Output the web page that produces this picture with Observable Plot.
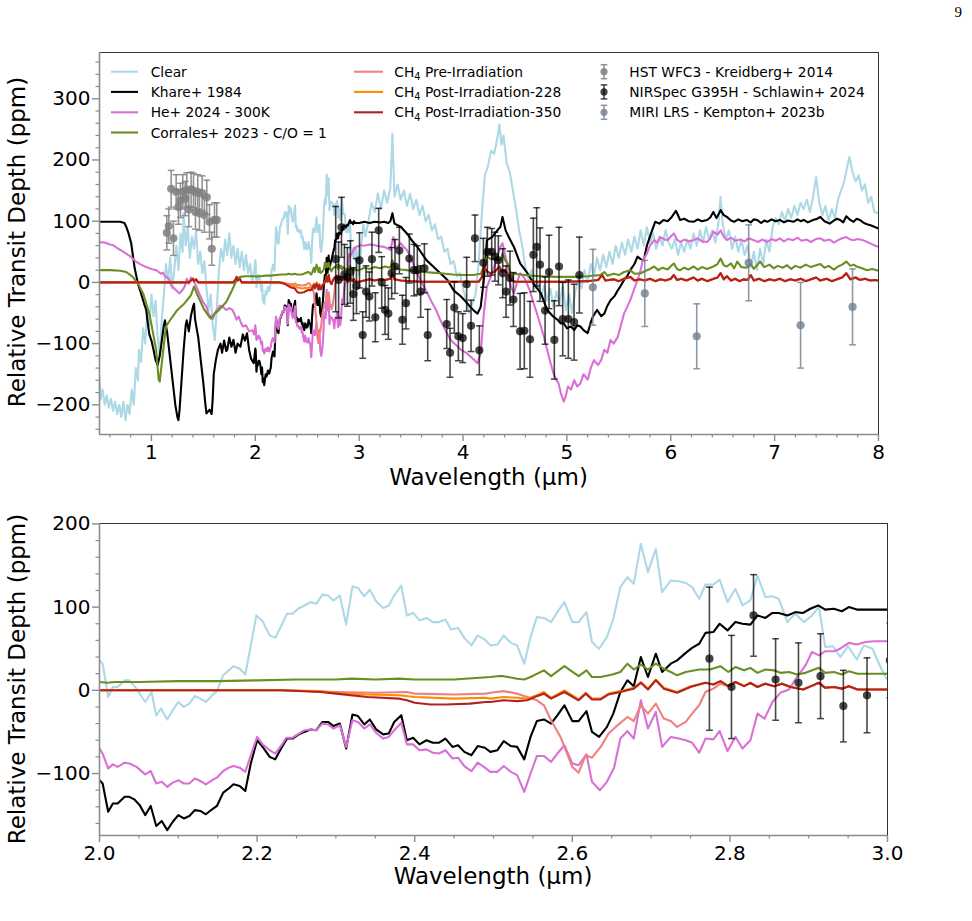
<!DOCTYPE html>
<html>
<head>
<meta charset="utf-8">
<script src="https://cdn.jsdelivr.net/npm/d3@7"></script>
<script src="https://cdn.jsdelivr.net/npm/@observablehq/plot@0.6"></script>
<style>
  body { margin: 0; background: #fff; }
  #page { position: relative; width: 972px; height: 921px; font-family: "DejaVu Sans", sans-serif; }
  #top, #bottom { position: absolute; left: 0; }
  #top { top: 0; }
  #bottom { top: 500px; }
  #overlay { position: absolute; left: 0; top: 0; pointer-events: none; }
</style>
</head>
<body>
<div id="page">
  <div id="top"></div>
  <div id="bottom"></div>
  <svg id="overlay" width="972" height="921"></svg>
</div>
<script>
// ---- Model spectra: [wavelength (µm), relative transit depth (ppm)] ----
const clearSpectrum = [
  [0.50,-154],[0.51,-192],[0.53,-175],[0.55,-200],[0.57,-185],[0.59,-205],[0.61,-190],[0.63,-210],[0.65,-195],[0.67,-215],
  [0.69,-200],[0.71,-220],[0.73,-195],[0.75,-225],[0.77,-200],[0.79,-215],[0.81,-175],[0.83,-200],[0.85,-140],[0.87,-160],
  [0.88,-110],[0.90,-130],[0.92,-75],[0.94,-100],[0.96,-45],[0.98,-70],[1.00,-20],[1.02,-55],[1.04,-30],[1.06,-90],
  [1.08,-120],[1.10,-60],[1.12,-20],[1.14,30],[1.16,0],[1.18,40],[1.20,-10],[1.22,20],[1.24,60],[1.26,20],[1.28,80],
  [1.30,50],[1.31,113],[1.33,60],[1.35,90],[1.37,40],[1.39,75],[1.41,55],[1.43,85],[1.45,30],[1.47,50],[1.49,15],
  [1.51,35],[1.53,-10],[1.55,-45],[1.57,-20],[1.59,-70],[1.61,-94],[1.63,-40],[1.65,20],[1.67,55],[1.69,35],[1.71,70],
  [1.73,45],[1.75,80],[1.77,40],[1.79,60],[1.81,30],[1.83,55],[1.85,25],[1.87,50],[1.89,20],[1.91,45],[1.93,15],
  [1.95,30],[1.97,0],[1.99,20],
  [2.000,36],[2.004,32],[2.011,-8],[2.017,4],[2.023,4],[2.032,12],[2.038,12],[2.047,2],[2.058,-14],[2.066,-2],[2.072,-30],
  [2.078,-22],[2.086,-35],[2.093,-24],[2.100,-14],[2.107,-20],[2.114,-16],[2.121,-7],[2.128,-10],[2.135,-14],[2.143,-6],
  [2.149,-1],[2.157,18],[2.164,24],[2.170,29],[2.178,26],[2.185,19],[2.192,54],[2.199,90],[2.207,83],[2.216,66],[2.223,63],
  [2.231,78],[2.238,92],[2.245,92],[2.252,98],[2.260,102],[2.268,106],[2.275,104],[2.283,115],[2.290,114],[2.297,108],
  [2.305,114],[2.313,79],[2.321,125],[2.328,123],[2.336,113],[2.343,121],[2.351,107],[2.360,99],[2.367,102],[2.374,114],
  [2.383,126],[2.390,90],[2.398,93],[2.406,84],[2.415,87],[2.423,82],[2.431,82],[2.439,85],[2.446,73],[2.455,75],[2.463,63],
  [2.472,54],[2.480,66],[2.489,61],[2.496,54],[2.505,55],[2.513,66],[2.522,57],[2.530,54],[2.539,32],[2.547,64],[2.555,88],
  [2.564,87],[2.573,82],[2.581,94],[2.590,106],[2.600,82],[2.608,82],[2.618,94],[2.625,58],[2.634,50],[2.644,64],[2.652,86],
  [2.661,124],[2.670,136],[2.678,128],[2.687,176],[2.696,142],[2.706,170],[2.714,118],[2.725,132],[2.735,131],[2.744,129],
  [2.752,124],[2.761,110],[2.769,127],[2.779,127],[2.787,133],[2.797,106],[2.807,122],[2.816,102],[2.826,108],[2.835,138],
  [2.845,112],[2.854,113],[2.862,110],[2.873,82],[2.883,92],[2.894,82],[2.903,89],[2.913,100],[2.921,52],[2.931,53],
  [2.940,40],[2.950,53],[2.961,37],[2.970,54],[2.981,50],[2.991,28],[3.000,12],
  [3.02,60],[3.04,95],[3.06,75],[3.09,100],[3.12,130],[3.15,115],[3.18,145],[3.21,120],[3.24,150],[3.27,130],[3.30,155],
  [3.32,243],[3.34,140],[3.37,160],[3.40,135],[3.43,150],[3.46,125],[3.49,145],[3.52,120],[3.55,135],[3.58,110],[3.61,125],
  [3.64,100],[3.67,110],[3.70,85],[3.73,95],[3.76,70],[3.79,75],[3.82,50],[3.85,55],[3.88,30],[3.91,35],[3.94,10],
  [3.97,15],[4.00,-10],[4.03,-30],[4.06,-50],[4.09,-35],[4.12,-20],[4.15,30],[4.18,110],[4.21,175],[4.24,190],[4.27,215],
  [4.30,210],[4.33,235],[4.35,258],[4.37,225],[4.39,240],[4.42,195],[4.45,180],[4.48,150],[4.51,120],[4.54,85],[4.57,60],
  [4.60,25],[4.63,5],[4.66,20],[4.69,-10],[4.72,0],[4.75,-25],[4.78,-5],[4.81,-30],[4.84,-10],[4.87,-40],[4.90,-15],
  [4.93,-35],[4.96,-5],[4.99,-45],[5.02,-20],[5.05,-50],[5.08,-15],[5.11,5],[5.14,-10],[5.17,20],[5.20,0],[5.23,30],
  [5.26,10],[5.29,40],[5.32,20],[5.35,45],[5.38,25],[5.41,50],[5.44,30],[5.47,60],[5.50,40],[5.53,65],[5.56,45],[5.59,70],
  [5.62,50],[5.65,75],[5.68,55],[5.71,85],[5.74,60],[5.77,90],[5.80,65],[5.83,80],[5.86,55],[5.89,75],[5.92,60],[5.95,85],
  [5.98,65],[6.01,55],[6.04,70],[6.07,45],[6.10,65],[6.13,50],[6.16,70],[6.19,55],[6.22,80],[6.25,60],[6.28,85],[6.31,65],
  [6.34,90],[6.37,70],[6.40,85],[6.43,65],[6.46,100],[6.48,140],[6.50,95],[6.53,70],[6.56,85],[6.59,55],[6.62,75],[6.65,50],
  [6.68,70],[6.71,45],[6.74,60],[6.77,25],[6.80,50],[6.83,20],[6.86,55],[6.89,30],[6.92,70],[6.95,50],[6.98,90],[7.01,105],
  [7.04,95],[7.07,115],[7.10,100],[7.13,120],[7.16,105],[7.19,125],[7.22,110],[7.25,130],[7.28,120],[7.31,135],[7.34,115],
  [7.37,140],[7.40,172],[7.43,130],[7.46,110],[7.49,125],[7.52,100],[7.55,120],[7.58,105],[7.61,135],[7.64,150],[7.67,165],
  [7.70,190],[7.72,205],[7.75,180],[7.78,165],[7.81,175],[7.84,150],[7.87,160],[7.90,130],[7.93,140],[7.96,115],[8.00,113]
];

const khare1984 = [
  [0.50,99],[0.60,99],[0.70,99],[0.74,97],[0.757,91],[0.78,80],[0.805,64],[0.837,25],[0.87,-2],[0.90,-18],[0.93,-35],
  [0.95,-45],[0.96,-60],[0.98,-85],[1.00,-95],[1.02,-110],[1.04,-127],[1.06,-135],[1.08,-120],[1.10,-95],[1.12,-70],
  [1.13,-62],[1.15,-80],[1.17,-110],[1.19,-140],[1.21,-170],[1.23,-200],[1.25,-220],[1.26,-225],[1.27,-210],[1.29,-160],
  [1.31,-110],[1.33,-70],[1.34,-62],[1.36,-80],[1.38,-55],[1.40,-40],[1.41,-35],[1.42,-60],[1.44,-80],[1.45,-89],
  [1.47,-120],[1.50,-165],[1.52,-200],[1.53,-214],[1.55,-210],[1.56,-208],[1.58,-215],[1.59,-190],[1.60,-150],[1.62,-127],
  [1.64,-110],[1.665,-100],[1.68,-115],[1.70,-95],[1.72,-112],[1.73,-110],[1.75,-90],[1.77,-105],[1.79,-94],[1.81,-115],
  [1.83,-100],[1.857,-105],[1.88,-85],[1.90,-95],[1.92,-83],[1.94,-110],[1.96,-125],[1.985,-132],
  [2.000,-108],[2.004,-112],[2.011,-146],[2.017,-136],[2.023,-136],[2.032,-128],[2.038,-128],[2.044,-131],[2.051,-138],
  [2.058,-150],[2.065,-139],[2.072,-163],[2.079,-157],[2.086,-168],[2.093,-158],[2.100,-150],[2.107,-154],[2.114,-151],
  [2.121,-144],[2.128,-145],[2.135,-149],[2.143,-143],[2.149,-139],[2.157,-123],[2.164,-118],[2.170,-113],[2.178,-115],
  [2.185,-121],[2.192,-88],[2.200,-60],[2.207,-68],[2.216,-80],[2.223,-83],[2.231,-69],[2.238,-58],[2.245,-58],[2.253,-53],
  [2.260,-50],[2.268,-47],[2.275,-48],[2.283,-38],[2.290,-38],[2.297,-43],[2.305,-40],[2.313,-70],[2.321,-29],[2.328,-31],
  [2.336,-41],[2.343,-35],[2.351,-47],[2.360,-53],[2.367,-52],[2.374,-38],[2.383,-30],[2.390,-60],[2.398,-57],[2.406,-65],
  [2.415,-60],[2.423,-63],[2.431,-63],[2.439,-58],[2.448,-68],[2.455,-66],[2.463,-74],[2.472,-78],[2.480,-67],[2.489,-69],
  [2.496,-74],[2.505,-72],[2.513,-61],[2.522,-67],[2.530,-68],[2.539,-83],[2.547,-56],[2.555,-37],[2.564,-35],[2.573,-40],
  [2.581,-30],[2.590,-18],[2.600,-37],[2.608,-37],[2.618,-25],[2.625,-50],[2.634,-56],[2.644,-44],[2.652,-28],[2.661,-2],
  [2.670,12],[2.678,5],[2.687,40],[2.696,16],[2.706,44],[2.714,22],[2.725,32],[2.733,36],[2.744,45],[2.752,51],[2.761,56],
  [2.769,69],[2.779,70],[2.787,80],[2.797,72],[2.807,82],[2.816,80],[2.826,79],[2.835,90],[2.845,87],[2.854,93],[2.862,93],
  [2.873,90],[2.883,94],[2.893,93],[2.902,98],[2.912,102],[2.921,97],[2.932,98],[2.942,95],[2.951,100],[2.961,97],
  [2.972,97],[2.983,97],[3.000,97],
  [3.05,99],[3.10,97],[3.15,99],[3.20,98],[3.24,99],[3.28,97],[3.30,100],[3.32,113],[3.34,96],[3.40,91],[3.46,80],[3.51,68],
  [3.56,58],[3.60,48],[3.65,36],[3.70,28],[3.75,20],[3.80,12],[3.85,4],[3.91,-13],[3.98,-23],[4.03,-32],[4.07,-40],
  [4.11,-47],[4.14,-51],[4.17,-40],[4.20,4],[4.23,69],[4.28,74],[4.33,85],[4.36,91],[4.38,107],[4.41,85],[4.44,74],
  [4.49,58],[4.55,31],[4.62,15],[4.68,-2],[4.75,-18],[4.81,-45],[4.87,-56],[4.91,-61],[4.94,-67],[4.97,-67],[5.00,-75],
  [5.04,-72],[5.07,-78],[5.10,-70],[5.13,-72],[5.16,-78],[5.20,-83],[5.23,-65],[5.25,-56],[5.29,-45],[5.33,-55],[5.36,-51],
  [5.39,-38],[5.42,-29],[5.46,-22],[5.49,-13],[5.52,-5],[5.55,4],[5.58,10],[5.61,20],[5.65,30],[5.68,42],[5.71,38],
  [5.74,36],[5.77,60],[5.81,80],[5.85,99],[5.89,96],[5.93,102],[5.97,100],[6.01,107],[6.05,117],[6.09,102],[6.13,104],
  [6.17,100],[6.22,99],[6.26,103],[6.30,100],[6.35,102],[6.38,106],[6.41,115],[6.44,105],[6.48,118],[6.51,110],[6.54,107],
  [6.58,101],[6.61,99],[6.65,103],[6.69,100],[6.73,102],[6.77,98],[6.80,103],[6.83,102],[6.87,97],[6.90,101],[6.93,99],
  [6.97,103],[7.01,100],[7.05,102],[7.09,98],[7.13,101],[7.18,99],[7.22,103],[7.25,100],[7.28,102],[7.32,98],[7.37,102],
  [7.41,104],[7.44,107],[7.48,100],[7.53,96],[7.57,101],[7.60,104],[7.63,102],[7.66,98],[7.69,108],[7.72,103],[7.76,99],
  [7.79,104],[7.82,102],[7.86,97],[7.89,95],[7.93,93],[7.97,90],[8.00,88]
];

const he2024 = [
  [0.50,66],[0.55,65],[0.60,62],[0.63,61],[0.68,55],[0.72,51],[0.757,47],[0.80,42],[0.85,34],[0.90,29],[0.95,25],[1.00,22],
  [1.045,20],[1.07,17],[1.09,14],[1.11,16],[1.13,10],[1.15,8],[1.17,6],[1.19,-5],[1.22,-10],[1.25,-15],[1.27,-18],
  [1.30,-12],[1.32,-7],[1.34,6],[1.36,-2],[1.38,8],[1.40,4],[1.42,-2],[1.44,-10],[1.46,-18],[1.49,-30],[1.53,-40],
  [1.55,-52],[1.57,-56],[1.59,-60],[1.61,-50],[1.63,-45],[1.66,-38],[1.69,-40],[1.72,-45],[1.75,-42],[1.78,-45],[1.80,-52],
  [1.82,-61],[1.84,-56],[1.86,-65],[1.88,-72],[1.91,-70],[1.94,-80],[1.97,-78],[1.99,-85],
  [2.000,-70],[2.004,-76],[2.011,-94],[2.017,-89],[2.023,-92],[2.032,-87],[2.038,-88],[2.047,-92],[2.058,-101],[2.065,-97],
  [2.072,-112],[2.079,-110],[2.086,-116],[2.093,-111],[2.100,-108],[2.107,-112],[2.114,-112],[2.121,-106],[2.128,-109],
  [2.135,-113],[2.143,-108],[2.149,-105],[2.157,-97],[2.164,-93],[2.170,-91],[2.178,-93],[2.185,-98],[2.192,-78],[2.200,-56],
  [2.207,-65],[2.216,-72],[2.223,-76],[2.231,-66],[2.237,-57],[2.245,-57],[2.253,-52],[2.260,-48],[2.268,-47],[2.275,-48],
  [2.283,-40],[2.290,-41],[2.297,-46],[2.305,-42],[2.313,-68],[2.321,-36],[2.328,-38],[2.336,-46],[2.343,-41],[2.351,-51],
  [2.360,-58],[2.367,-56],[2.374,-48],[2.383,-39],[2.390,-65],[2.398,-65],[2.406,-72],[2.415,-71],[2.423,-75],[2.431,-76],
  [2.439,-72],[2.448,-82],[2.455,-81],[2.463,-91],[2.472,-97],[2.480,-87],[2.489,-93],[2.496,-98],[2.505,-98],[2.513,-91],
  [2.522,-98],[2.530,-102],[2.539,-122],[2.547,-100],[2.555,-79],[2.564,-79],[2.573,-86],[2.581,-76],[2.590,-66],[2.600,-88],
  [2.608,-90],[2.618,-77],[2.625,-110],[2.635,-120],[2.644,-110],[2.653,-93],[2.661,-58],[2.670,-49],[2.678,-58],[2.687,-12],
  [2.696,-46],[2.706,-26],[2.714,-68],[2.725,-56],[2.735,-58],[2.744,-60],[2.752,-63],[2.761,-75],[2.769,-58],[2.779,-59],
  [2.787,-49],[2.797,-73],[2.807,-56],[2.816,-70],[2.826,-60],[2.835,-28],[2.844,-34],[2.854,-14],[2.864,-3],[2.875,1],
  [2.885,16],[2.896,30],[2.904,46],[2.913,42],[2.921,47],[2.932,47],[2.940,50],[2.951,57],[2.961,55],[2.972,58],[2.983,59],
  [3.000,59],
  [3.01,61],[3.05,60],[3.10,62],[3.14,61],[3.19,59],[3.24,58],[3.28,55],[3.30,53],[3.33,74],[3.35,55],[3.40,64],[3.43,58],
  [3.46,53],[3.50,40],[3.53,26],[3.56,15],[3.59,4],[3.64,-12],[3.69,-29],[3.74,-45],[3.78,-61],[3.83,-78],[3.88,-94],
  [3.93,-102],[3.98,-110],[4.03,-115],[4.07,-121],[4.11,-127],[4.14,-132],[4.17,-116],[4.20,-51],[4.23,-7],[4.27,10],
  [4.30,26],[4.33,42],[4.36,58],[4.38,64],[4.41,42],[4.44,15],[4.46,-7],[4.49,-18],[4.52,0],[4.55,15],[4.58,10],[4.60,4],
  [4.64,-12],[4.67,-29],[4.71,-50],[4.75,-72],[4.78,-90],[4.81,-110],[4.84,-130],[4.87,-148],[4.90,-160],[4.92,-165],
  [4.94,-180],[4.97,-195],[4.99,-185],[5.01,-170],[5.04,-175],[5.07,-160],[5.10,-170],[5.13,-165],[5.16,-150],[5.20,-159],
  [5.23,-140],[5.26,-127],[5.30,-135],[5.33,-127],[5.36,-110],[5.39,-115],[5.42,-94],[5.45,-100],[5.49,-89],[5.52,-70],
  [5.55,-51],[5.58,-40],[5.61,-29],[5.65,-10],[5.68,4],[5.71,20],[5.73,36],[5.77,47],[5.80,60],[5.84,69],[5.87,65],
  [5.90,74],[5.94,70],[5.97,69],[6.00,75],[6.03,80],[6.06,70],[6.09,66],[6.13,70],[6.17,67],[6.22,69],[6.26,72],[6.30,67],
  [6.35,66],[6.38,72],[6.41,83],[6.45,78],[6.48,85],[6.51,75],[6.54,69],[6.58,73],[6.62,68],[6.67,70],[6.71,67],[6.75,72],
  [6.80,69],[6.84,66],[6.88,70],[6.93,66],[6.97,71],[7.01,68],[7.05,72],[7.09,67],[7.13,71],[7.18,69],[7.22,73],[7.26,68],
  [7.31,70],[7.35,66],[7.40,71],[7.44,72],[7.48,68],[7.53,70],[7.57,65],[7.61,69],[7.65,72],[7.69,74],[7.73,70],[7.76,69],
  [7.80,71],[7.85,69],[7.89,66],[7.93,63],[7.97,60],[8.00,58]
];

const corrales2023 = [
  [0.50,20],[0.60,20],[0.70,19],[0.757,17],[0.82,9],[0.87,-2],[0.92,-18],[0.98,-51],[1.01,-78],[1.045,-110],[1.07,-159],
  [1.08,-162],[1.11,-116],[1.14,-72],[1.19,-59],[1.25,-45],[1.32,-34],[1.38,-21],[1.41,-7],[1.45,-23],[1.51,-45],
  [1.57,-59],[1.61,-51],[1.65,-45],[1.72,-32],[1.77,-15],[1.82,4],[1.85,9],[1.91,10],[1.96,10],
  [2.00,10],[2.01,9],[2.02,10],[2.05,10],[2.10,11],[2.15,11],[2.20,12],[2.25,13],[2.30,13],[2.32,14],[2.35,13],[2.38,14],
  [2.40,13],[2.45,13],[2.496,16],[2.505,17],[2.513,17],[2.530,14],[2.539,13],[2.547,16],[2.564,24],[2.573,17],[2.590,29],
  [2.608,17],[2.618,24],[2.625,16],[2.636,16],[2.651,19],[2.661,22],[2.670,32],[2.678,25],[2.687,31],[2.696,25],[2.706,32],
  [2.716,26],[2.725,22],[2.733,18],[2.744,22],[2.761,25],[2.775,25],[2.788,29],[2.798,22],[2.807,28],[2.818,24],[2.826,27],
  [2.835,21],[2.845,25],[2.856,24],[2.864,21],[2.875,22],[2.885,19],[2.896,21],[2.913,27],[2.921,21],[2.932,22],[2.942,19],
  [2.951,23],[2.962,20],[3.00,20],
  [3.05,24],[3.10,22],[3.15,25],[3.20,23],[3.25,26],[3.30,24],[3.32,36],[3.34,24],[3.40,21],[3.46,20],[3.55,18],[3.62,17],
  [3.70,16],[3.78,15],[3.90,13],[4.00,12],[4.10,12],[4.17,14],[4.20,26],[4.23,42],[4.27,38],[4.30,39],[4.33,37],[4.36,36],
  [4.38,47],[4.41,35],[4.43,31],[4.46,15],[4.55,13],[4.65,11],[4.75,10],[4.90,9],[5.07,9],[5.20,10],[5.32,12],[5.36,17],
  [5.39,11],[5.45,14],[5.50,12],[5.55,17],[5.61,20],[5.65,14],[5.71,15],[5.76,19],[5.80,22],[5.84,26],[5.88,20],[5.92,24],
  [5.97,21],[6.01,28],[6.03,31],[6.06,22],[6.09,20],[6.13,24],[6.17,21],[6.22,26],[6.26,21],[6.30,25],[6.35,22],[6.41,26],
  [6.45,30],[6.48,39],[6.51,28],[6.54,26],[6.58,31],[6.61,23],[6.64,34],[6.68,25],[6.73,24],[6.77,30],[6.80,22],[6.83,28],
  [6.86,34],[6.90,25],[6.95,29],[6.99,23],[7.03,27],[7.08,24],[7.12,28],[7.16,22],[7.20,27],[7.25,24],[7.30,29],[7.35,25],
  [7.40,28],[7.44,30],[7.48,24],[7.52,27],[7.57,21],[7.61,26],[7.65,29],[7.69,34],[7.73,27],[7.76,29],[7.79,26],[7.84,23],
  [7.89,20],[7.94,22],[8.00,19]
];

// CH4 haze after 350 irradiation steps
const ch4Post350 = [
  [0.50,0],[1.36,0],[1.38,3],[1.40,6],[1.41,2],[1.43,5],[1.45,0],[1.79,0],[1.81,5],[1.82,9],[1.83,3],[1.85,6],[1.87,0],
  [2.00,0],[2.23,0],[2.28,-2],[2.30,-4],[2.34,-8],[2.38,-10],[2.39,-12],[2.40,-15],[2.42,-17],[2.44,-17],[2.47,-16],
  [2.49,-14],[2.496,-14],[2.513,-12],[2.530,-13],[2.543,-12],[2.555,-7],[2.564,-4],[2.573,-10],[2.590,-2],[2.608,-12],
  [2.617,-4],[2.625,-11],[2.636,-11],[2.646,-5],[2.661,-2],[2.678,2],[2.687,9],[2.696,1],[2.706,12],[2.716,2],[2.733,-3],
  [2.750,4],[2.769,9],[2.779,7],[2.788,11],[2.798,5],[2.807,10],[2.818,5],[2.826,9],[2.835,4],[2.845,8],[2.856,5],
  [2.866,8],[2.877,4],[2.893,1],[2.903,5],[2.913,9],[2.921,3],[2.932,4],[2.942,2],[2.951,5],[2.962,1],[3.00,1],
  [3.05,3],[3.10,5],[3.15,3],[3.20,5],[3.25,4],[3.30,6],[3.32,15],[3.34,5],[3.40,3],[3.50,2],[3.60,1],[3.80,1],[4.00,1],
  [4.15,1],[4.18,8],[4.20,26],[4.23,18],[4.26,15],[4.30,17],[4.33,22],[4.35,26],[4.37,18],[4.40,20],[4.43,15],[4.46,4],
  [4.50,1],[4.80,1],[5.00,1],[5.20,2],[5.30,4],[5.34,12],[5.37,3],[5.45,5],[5.50,2],[5.55,6],[5.61,9],[5.65,3],[5.70,5],
  [5.75,3],[5.80,6],[5.85,2],[5.90,5],[5.95,3],[6.00,6],[6.03,12],[6.06,4],[6.10,6],[6.15,3],[6.22,8],[6.26,3],[6.30,6],
  [6.35,2],[6.40,5],[6.45,8],[6.48,15],[6.51,5],[6.54,10],[6.58,3],[6.62,6],[6.66,2],[6.70,5],[6.74,4],[6.77,12],[6.80,3],
  [6.85,6],[6.90,2],[6.95,5],[7.00,3],[7.05,6],[7.10,2],[7.15,5],[7.20,3],[7.25,6],[7.30,2],[7.35,5],[7.40,8],[7.44,3],
  [7.50,6],[7.55,2],[7.60,5],[7.65,8],[7.69,15],[7.73,5],[7.78,8],[7.82,4],[7.87,6],[7.92,3],[7.96,4],[8.00,3]
];

// Where the other two CH4 hazes depart from the 350 case
const ch4Post228Band = [
  [2.23,0],[2.28,-1],[2.30,-3],[2.34,-5],[2.38,-6],[2.40,-8],[2.45,-10],[2.49,-9],[2.496,-10],[2.513,-8],[2.530,-9],
  [2.543,-10],[2.555,-6],[2.564,-2],[2.573,-9],[2.590,0],[2.608,-11],[2.617,-3],[2.625,-10],[2.636,-10],[2.646,-4],
  [2.661,-1],[2.678,3],[2.687,10],[2.696,2],[2.706,13],[2.716,3],[2.733,-2],[2.750,5]
];
const ch4PreBand = [
  [2.23,0],[2.30,-2],[2.35,-3],[2.39,-2],[2.40,-4],[2.45,-5],[2.49,-4],[2.496,-3],[2.513,-1],[2.530,-4],[2.543,-8],
  [2.555,-12],[2.564,-18],[2.573,-36],[2.585,-56],[2.600,-92],[2.608,-99],[2.617,-78],[2.625,-81],[2.636,-68],[2.646,-52],
  [2.655,-44],[2.670,-32],[2.678,-37],[2.687,-18],[2.696,-28],[2.706,-16],[2.716,-34],[2.725,-37],[2.733,-44],[2.744,-38],
  [2.752,-28],[2.761,-18],[2.769,-2],[2.779,2],[2.788,8]
];
function spliceBand(base, band) {
  const lo = band[0][0], hi = band[band.length - 1][0];
  return [...base.filter(d => d[0] < lo), ...band, ...base.filter(d => d[0] > hi)];
}
const ch4Post228 = spliceBand(ch4Post350, ch4Post228Band);
const ch4Pre = spliceBand(ch4Post350, ch4PreBand);

// ---- Observations: [wavelength (µm), depth (ppm), 1σ error (ppm)] ----
const hstWfc3 = [
  [1.148,81,28],[1.167,92,28],[1.190,153,30],[1.212,72,28],[1.238,148,28],[1.260,123,28],[1.280,134,28],[1.302,148,28],
  [1.325,137,28],[1.340,151,28],[1.360,119,28],[1.382,152,28],[1.405,150,28],[1.424,115,28],[1.446,148,28],[1.462,113,28],
  [1.488,146,28],[1.510,110,28],[1.533,139,28],[1.559,99,28],[1.581,55,27],[1.607,102,28],[1.629,102,28]
];
const nirspecG395H = [
  [2.774,38,86],[2.802,4,62],[2.830,90,49],[2.858,13,49],[2.887,9,48],[2.915,17,51],[2.944,-19,43],[2.974,-6,45],
  [3.003,36,45],[3.034,-86,38],[3.066,-15,42],[3.098,-23,40],[3.123,38,44],[3.156,-57,40],[3.188,85,36],[3.217,0,42],
  [3.249,-45,40],[3.281,-51,42],[3.313,15,42],[3.345,26,44],[3.387,52,38],[3.416,-61,40],[3.451,-34,42],[3.483,39,40],
  [3.528,20,42],[3.560,20,40],[3.592,-15,42],[3.628,23,40],[3.660,-86,42],[3.843,-68,40],[3.875,-115,40],[3.916,-41,42],
  [3.955,-88,40],[3.997,-91,40],[4.035,-3,44],[4.077,-71,42],[4.115,72,38],[4.157,-111,40],[4.196,32,40],[4.234,50,40],
  [4.276,50,38],[4.308,42,40],[4.340,36,40],[4.382,15,40],[4.414,-15,42],[4.452,7,44],[4.485,-28,44],[4.549,-80,62],
  [4.590,-79,62],[4.645,-93,62],[4.677,45,60],[4.709,58,64],[4.741,29,60],[4.790,-46,55],[4.828,17,60],[4.879,-94,64],
  [4.924,26,64],[4.960,-60,60],[5.014,-60,64],[5.069,-65,62],[5.120,12,62]
];
const miriLrs = [
  [5.25,-8,62],[5.75,-18,54],[6.25,-88,53],[6.75,32,62],[7.25,-70,70],[7.75,-40,62]
];

// ---- Series styling and legend text ----
const lineSeries = [
  {name: "Clear", data: clearSpectrum, color: "#add8e6"},
  {name: "Khare+ 1984", data: khare1984, color: "#000000"},
  {name: "He+ 2024 - 300K", data: he2024, color: "#da70d6"},
  {name: "Corrales+ 2023 - C/O = 1", data: corrales2023, color: "#6b8e23"},
  {name: "CH4 Pre-Irradiation", data: ch4Pre, color: "#f08080"},
  {name: "CH4 Post-Irradiation-228", data: ch4Post228, color: "#ff8c00"},
  {name: "CH4 Post-Irradiation-350", data: ch4Post350, color: "#b22222"}
];
const pointSeries = [
  {name: "HST WFC3 - Kreidberg+ 2014", data: hstWfc3, color: "#808080", alpha: 0.85},
  {name: "NIRSpec G395H - Schlawin+ 2024", data: nirspecG395H, color: "#000000", alpha: 0.72},
  {name: "MIRI LRS - Kempton+ 2023b", data: miriLrs, color: "#708090", alpha: 0.8}
];

// ---- Axis ticks ----
const topXTicks = [1, 2, 3, 4, 5, 6, 7, 8];
const topYTicks = [-200, -100, 0, 100, 200, 300];
const bottomXTicks = [2.0, 2.2, 2.4, 2.6, 2.8, 3.0];
const bottomYTicks = [-100, 0, 100, 200];
const topXMinor = d3.range(6, 80, 2).map(v => v / 10).filter(v => v % 1 !== 0);
const topYMinor = d3.range(-240, 361, 20).filter(v => v % 100 !== 0);
const bottomXMinor = d3.range(200, 301, 5).filter(v => v % 20 !== 0).map(v => v / 100);
const bottomYMinor = d3.range(-160, 201, 20).filter(v => v % 100 !== 0);

const axisGray = "#8c8c8c";
const capSymbol = {draw(ctx, size) { const w = Math.sqrt(size / Math.PI); ctx.moveTo(-w, 0); ctx.lineTo(w, 0); }};

function errorBarMarks({data, color, alpha}) {
  const x = d => d[0], lo = d => d[1] - d[2], hi = d => d[1] + d[2];
  const cap = {x, symbol: capSymbol, r: 3.4, fill: "none", stroke: color, strokeOpacity: alpha, strokeWidth: 1.5, clip: true};
  return [
    Plot.ruleX(data, {x, y1: lo, y2: hi, stroke: color, strokeOpacity: alpha, strokeWidth: 1.6, clip: true}),
    Plot.dot(data, {...cap, y: lo}),
    Plot.dot(data, {...cap, y: hi}),
    Plot.dot(data, {x, y: d => d[1], r: 4.1, fill: color, fillOpacity: alpha, stroke: "none", clip: true})
  ];
}

function panel({width, height, margins, xDomain, yDomain, xTicks, yTicks, xMinor, yMinor, xFormat}) {
  return Plot.plot({
    width, height,
    marginTop: margins[0], marginRight: margins[1], marginBottom: margins[2], marginLeft: margins[3],
    style: {fontFamily: "DejaVu Sans, sans-serif", background: "white", color: "black", overflow: "visible"},
    x: {domain: xDomain},
    y: {domain: yDomain},
    marks: [
      ...lineSeries.map(s => Plot.line(s.data, {
        x: d => d[0], y: d => d[1], stroke: s.color, strokeWidth: 2.1, strokeLinejoin: "round", clip: true
      })),
      ...pointSeries.flatMap(errorBarMarks),
      Plot.ruleX([xDomain[1]], {stroke: "#333", strokeWidth: 1}),
      Plot.ruleY([yDomain[1]], {stroke: "#333", strokeWidth: 1}),
      Plot.ruleX([xDomain[0]], {stroke: axisGray, strokeWidth: 1.6}),
      Plot.ruleY([yDomain[0]], {stroke: axisGray, strokeWidth: 1.6}),
      Plot.axisX(xMinor, {tickSize: 3.5, stroke: axisGray, strokeWidth: 1.2, fill: "none", label: null}),
      Plot.axisY(yMinor, {tickSize: 3.5, stroke: axisGray, strokeWidth: 1.2, fill: "none", label: null}),
      Plot.axisX(xTicks, {tickSize: 7, tickPadding: 3, fontSize: 20, stroke: axisGray, strokeWidth: 1.4,
        fill: "black", label: null, tickFormat: xFormat}),
      Plot.axisY(yTicks, {tickSize: 7, tickPadding: 2, fontSize: 20, stroke: axisGray, strokeWidth: 1.4,
        fill: "black", label: null})
    ]
  });
}

document.getElementById("top").append(panel({
  width: 972, height: 500, margins: [52, 94, 66, 99],
  xDomain: [0.5, 8], yDomain: [-248.5, 375.6],
  xTicks: topXTicks, yTicks: topYTicks, xMinor: topXMinor, yMinor: topYMinor,
  xFormat: d3.format("d")
}));
document.getElementById("bottom").append(panel({
  width: 972, height: 421, margins: [23, 85, 86, 99],
  xDomain: [2, 3], yDomain: [-174.5, 200.5],
  xTicks: bottomXTicks, yTicks: bottomYTicks, xMinor: bottomXMinor, yMinor: bottomYMinor,
  xFormat: d3.format(".1f")
}));

// ---- Axis titles, legend and page number ----
const ov = d3.select("#overlay");
const sans = "'DejaVu Sans', sans-serif";

function axisTitle(x, y, rotate, text) {
  ov.append("text")
    .attr("transform", `translate(${x},${y})` + (rotate ? " rotate(-90)" : ""))
    .attr("text-anchor", "middle")
    .attr("font-family", sans).attr("font-size", 23).attr("fill", "black")
    .text(text);
}
axisTitle(24.5, 242, true, "Relative Transit Depth (ppm)");
axisTitle(488.5, 485, false, "Wavelength (μm)");
axisTitle(24.5, 679, true, "Relative Transit Depth (ppm)");
axisTitle(493, 884, false, "Wavelength (μm)");

const legendRows = [71.7, 91.9, 112.3, 132.5];
const legendCols = [{handle: [111, 138], text: 150.7}, {handle: [354, 383], text: 394.3}, {handle: [604, 604], text: 629.3}];

function legendLabel(g, x, y, name) {
  const t = g.append("text").attr("x", x).attr("y", y + 5)
    .attr("font-family", sans).attr("font-size", 13.8).attr("fill", "black");
  if (name.startsWith("CH4")) {
    t.append("tspan").text("CH");
    t.append("tspan").attr("dy", 3.5).attr("font-size", 9.8).text("4");
    t.append("tspan").attr("dy", -3.5).text(name.slice(3));
  } else {
    t.text(name);
  }
}

const lg = ov.append("g");
lineSeries.forEach((s, i) => {
  const col = legendCols[i < 4 ? 0 : 1];
  const y = legendRows[i < 4 ? i : i - 4];
  lg.append("line").attr("x1", col.handle[0]).attr("x2", col.handle[1]).attr("y1", y).attr("y2", y)
    .attr("stroke", s.color).attr("stroke-width", 2.1);
  legendLabel(lg, col.text, y, s.name);
});
pointSeries.forEach((s, i) => {
  const col = legendCols[2];
  const y = legendRows[i];
  const x = col.handle[0];
  lg.append("line").attr("x1", x).attr("x2", x).attr("y1", y - 7).attr("y2", y + 7)
    .attr("stroke", s.color).attr("stroke-opacity", s.alpha).attr("stroke-width", 1.5);
  [y - 7, y + 7].forEach(cy => lg.append("line").attr("x1", x - 3.3).attr("x2", x + 3.3).attr("y1", cy).attr("y2", cy)
    .attr("stroke", s.color).attr("stroke-opacity", s.alpha).attr("stroke-width", 1.5));
  lg.append("circle").attr("cx", x).attr("cy", y).attr("r", 3.6).attr("fill", s.color).attr("fill-opacity", s.alpha);
  legendLabel(lg, col.text, y, s.name);
});

ov.append("text").attr("x", 962).attr("y", 17).attr("text-anchor", "end")
  .attr("font-family", "'Liberation Serif', serif").attr("font-size", 15).attr("fill", "black").text("9");
</script>
</body>
</html>
